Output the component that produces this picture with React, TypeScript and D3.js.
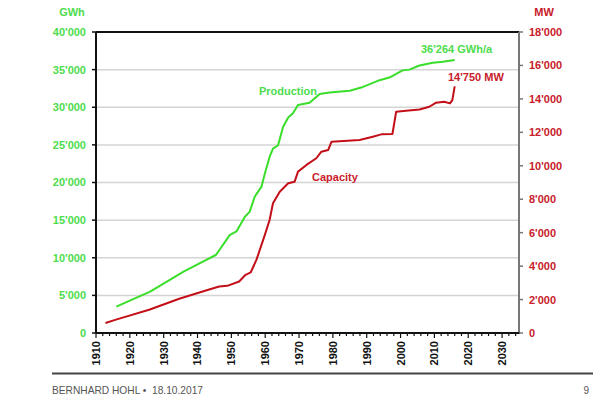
import * as d3 from "d3";
import React from "react";

// Production (GWh)
const prodYears = [1916, 1926, 1936, 1945.5, 1949.5, 1951.5, 1954, 1955.4, 1956.9, 1958.9, 1959.9, 1961.3, 1962.3, 1963.8, 1965.3, 1966.8, 1968.2, 1969.7, 1973.1, 1976.1, 1979, 1985, 1988.9, 1993.8, 1996.7, 2000.6, 2002.6, 2005.6, 2009.5, 2012.5, 2016];
const prodValues = [3500, 5500, 8200, 10400, 13000, 13500, 15450, 16100, 18100, 19450, 21200, 23400, 24500, 24950, 27400, 28650, 29200, 30300, 30600, 31750, 31950, 32200, 32700, 33600, 33950, 34900, 35000, 35550, 35900, 36050, 36264];

// Capacity (MW)
const capYears = [1912.8, 1915.9, 1925.7, 1934.6, 1941.5, 1946.4, 1948.8, 1952.3, 1954.2, 1955.7, 1957.4, 1959.9, 1961.3, 1962.3, 1964.3, 1966.8, 1968.7, 1969.7, 1972.2, 1975.1, 1976.6, 1978.6, 1979.6, 1987.9, 1991.8, 1994.3, 1997.6, 1998.7, 2001.6, 2005.6, 2008.5, 2010.5, 2012.9, 2014.6, 2015.3, 2016];
const capValues = [600, 800, 1390, 2050, 2480, 2780, 2820, 3080, 3480, 3620, 4370, 5870, 6760, 7760, 8450, 8950, 9050, 9650, 10050, 10450, 10840, 10940, 11440, 11540, 11740, 11880, 11900, 13230, 13290, 13370, 13530, 13770, 13830, 13730, 13930, 14750];

const leftTicks = [0, 5000, 10000, 15000, 20000, 25000, 30000, 35000, 40000];
const rightTicks = [0, 2000, 4000, 6000, 8000, 10000, 12000, 14000, 16000, 18000];
const yearTicks = [1910, 1920, 1930, 1940, 1950, 1960, 1970, 1980, 1990, 2000, 2010, 2020, 2030];

const W = 598;
const H = 398;
const margin = { top: 32, right: 79, bottom: 65, left: 96 };
const GREEN = "#3ade2a";
const GREEN_TXT = "#4ddc4d";
const RED = "#c40f18";
const RED_TXT = "#c8202a";
const FONT = "'Liberation Sans', Arial, sans-serif";

const fmt = (v: number) => {
  if (v < 1000) return String(v);
  const s = String(v);
  return s.slice(0, s.length - 3) + "'" + s.slice(s.length - 3);
};

const App: React.FC = () => {
  const x0 = margin.left;
  const x1 = W - margin.right;
  const y0 = H - margin.bottom;
  const y1 = margin.top;

  const x = d3.scaleLinear().domain([1910, 2035]).range([x0, x1]);
  const yL = d3.scaleLinear().domain([0, 40000]).range([y0, y1]);
  const yR = d3.scaleLinear().domain([0, 18000]).range([y0, y1]);

  const prodLine = d3
    .line<number>()
    .x((_, i) => x(prodYears[i]))
    .y((v) => yL(v));
  const capLine = d3
    .line<number>()
    .x((_, i) => x(capYears[i]))
    .y((v) => yR(v));

  const minor = d3.range(1910, 2036, 2);

  return (
    <svg
      width={W}
      height={H}
      style={{ position: "absolute", left: 0, top: 0, background: "#fff" }}
      fontFamily={FONT}
    >
      {/* gridlines */}
      {leftTicks.slice(1, -1).map((t) => (
        <line key={t} x1={x0} x2={x1} y1={yL(t)} y2={yL(t)} stroke="#d4d4d4" strokeWidth={1.5} />
      ))}

      {/* frame */}
      <line x1={x0} x2={x1} y1={y1} y2={y1} stroke="#111" strokeWidth={2} />
      <line x1={x1} x2={x1} y1={y1} y2={y0} stroke="#777" strokeWidth={2} />
      <line x1={x0} x2={x0} y1={y1} y2={y0} stroke="#111" strokeWidth={2} />
      <line x1={x0} x2={x1 + 1} y1={y0} y2={y0} stroke="#111" strokeWidth={2} />

      {/* left axis */}
      {leftTicks.map((t) => (
        <g key={t}>
          <line x1={x0 - 4} x2={x0} y1={yL(t)} y2={yL(t)} stroke="#111" strokeWidth={1.5} />
          <text
            x={x0 - 10}
            y={yL(t)}
            dy="0.36em"
            textAnchor="end"
            fill={GREEN_TXT}
            fontSize={11}
            fontWeight="bold"
          >
            {fmt(t)}
          </text>
        </g>
      ))}
      <text x={72} y={12} dy="0.36em" textAnchor="middle" fill={GREEN_TXT} fontSize={11} fontWeight="bold">
        GWh
      </text>

      {/* right axis */}
      {rightTicks.map((t) => (
        <g key={t}>
          <line x1={x1} x2={x1 + 4} y1={yR(t)} y2={yR(t)} stroke="#777" strokeWidth={1.5} />
          <text x={x1 + 10} y={yR(t)} dy="0.36em" fill={RED_TXT} fontSize={11} fontWeight="bold">
            {fmt(t)}
          </text>
        </g>
      ))}
      <text x={544} y={12} dy="0.36em" textAnchor="middle" fill={RED_TXT} fontSize={11} fontWeight="bold">
        MW
      </text>

      {/* x axis */}
      {minor.map((yr) => (
        <line
          key={yr}
          x1={x(yr)}
          x2={x(yr)}
          y1={y0}
          y2={y0 + (yr % 10 === 0 ? 5 : 3)}
          stroke="#111"
          strokeWidth={1.2}
        />
      ))}
      {yearTicks.map((yr) => (
        <text
          key={yr}
          transform={`translate(${x(yr)},${y0 + 8}) rotate(-90)`}
          dy="0.36em"
          textAnchor="end"
          fill="#111"
          fontSize={11}
          fontWeight="bold"
        >
          {yr}
        </text>
      ))}

      {/* series */}
      <path d={capLine(capValues) ?? ""} fill="none" stroke={RED} strokeWidth={2} strokeLinejoin="round" />
      <path d={prodLine(prodValues) ?? ""} fill="none" stroke={GREEN} strokeWidth={2} strokeLinejoin="round" />

      {/* annotations */}
      <text x={288} y={91} dy="0.36em" textAnchor="middle" fill={GREEN_TXT} fontSize={11} fontWeight="bold">
        Production
      </text>
      <text x={312} y={177} dy="0.36em" fill={RED_TXT} fontSize={11} fontWeight="bold">
        Capacity
      </text>
      <text x={421} y={49} dy="0.36em" fill={GREEN_TXT} fontSize={11} fontWeight="bold">
        36'264 GWh/a
      </text>
      <text x={448} y={77} dy="0.36em" fill={RED_TXT} fontSize={11} fontWeight="bold">
        14'750 MW
      </text>

      {/* footer */}
      <line x1={52} x2={593} y1={373.5} y2={373.5} stroke="#444" strokeWidth={2} />
      <text x={52} y={394} fill="#555" fontSize={10.2} style={{ whiteSpace: "pre" }}>
        {"BERNHARD HOHL \u2022  18.10.2017"}
      </text>
      <text x={589} y={394} textAnchor="end" fill="#555" fontSize={10}>
        9
      </text>
    </svg>
  );
};

export default App;
